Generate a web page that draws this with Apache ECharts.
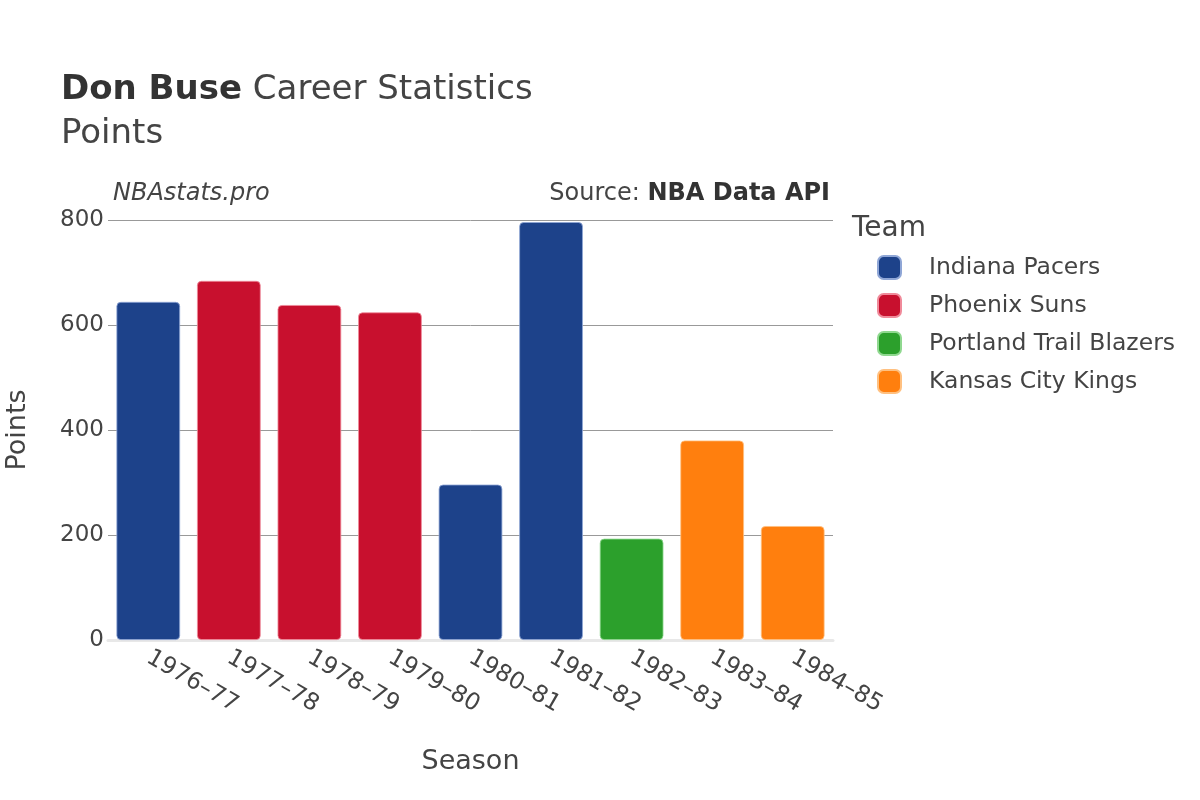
<!DOCTYPE html>
<html>
<head>
<meta charset="utf-8">
<script src="https://cdn.jsdelivr.net/npm/echarts@6/dist/echarts.min.js"></script>
<style>html,body{margin:0;padding:0;background:#fff}#c{width:1200px;height:800px}</style>
</head>
<body>
<div id="c"></div>
<script>
const seasons = ["1976–77","1977–78","1978–79","1979–80","1980–81","1981–82","1982–83","1983–84","1984–85"];
const seasonTeams = ["Indiana Pacers","Phoenix Suns","Phoenix Suns","Phoenix Suns","Indiana Pacers","Indiana Pacers","Portland Trail Blazers","Kansas City Kings","Kansas City Kings"];
const points = [644, 684, 638, 624, 296, 796, 193, 380, 217];
const teams = ["Indiana Pacers","Phoenix Suns","Portland Trail Blazers","Kansas City Kings"];
const teamColors = ["#1d428a","#c8102e","#2ca02c","#ff7f0e"];
const teamBorders = ["#8fa6d6","#f08a9a","#8fd88f","#ffc080"];
const yTicks = [0, 200, 400, 600, 800];

const FONT = "DejaVu Sans";
const chart = echarts.init(document.getElementById('c'), null, {renderer:'canvas'});

const series = teams.map((t, i) => ({
  name: t,
  type: 'bar',
  stack: 'total',
  barCategoryGap: '21%',
  itemStyle: { color: teamColors[i], borderRadius: 4, borderColor: teamBorders[i], borderWidth: 0.8 },
  data: points.map((v, j) => seasonTeams[j] === t ? v : null)
}));

chart.setOption({
  backgroundColor: '#fff',
  animation: false,
  textStyle: { fontFamily: FONT },
  grid: { left: 108, right: 367, top: 220, bottom: 160, containLabel: false, outerBoundsMode: 'none' },
  xAxis: {
    type: 'category',
    data: seasons,
    name: 'Season',
    nameLocation: 'middle',
    nameGap: 108,
    nameTextStyle: { fontSize: 27, color: '#444', fontFamily: FONT },
    axisLine: { show: true, lineStyle: { color: '#e8e8e8', width: 3 } },
    axisTick: { show: false },
    axisLabel: { rotate: -30, fontSize: 23.5, color: '#444', margin: 16, fontFamily: FONT }
  },
  yAxis: {
    type: 'value',
    min: yTicks[0], max: yTicks[yTicks.length - 1], interval: 200,
    name: 'Points',
    nameLocation: 'middle',
    nameGap: 77,
    nameTextStyle: { fontSize: 27, color: '#444', fontFamily: FONT },
    axisLine: { show: false },
    axisTick: { show: false },
    axisLabel: { fontSize: 23, color: '#444', margin: 4, fontFamily: FONT },
    splitLine: { lineStyle: { color: '#999', width: 1 } }
  },
  legend: {
    orient: 'vertical',
    left: 872,
    top: 250,
    itemWidth: 23,
    itemHeight: 23,
    itemGap: 13,
    icon: 'roundRect',
    data: teams,
    textStyle: { fontSize: 23.5, lineHeight: 23, color: '#444', fontFamily: FONT, padding: [0, 0, 0, 23] }
  },
  graphic: [
    { type: 'text', left: 61, top: 73, style: { text: '{b|Don Buse} Career Statistics', rich: { b: { fontWeight: 'bold', fontSize: 34, fill: '#333', fontFamily: FONT } }, fontSize: 34, fill: '#444', fontFamily: FONT } },
    { type: 'text', left: 61, top: 117, style: { text: 'Points', fontSize: 34, fill: '#444', fontFamily: FONT } },
    { type: 'text', left: 113, top: 182, style: { text: 'NBAstats.pro', fontSize: 24, fontStyle: 'italic', fill: '#444', fontFamily: FONT } },
    { type: 'text', right: 370, top: 182, style: { text: 'Source: {b|NBA Data API}', rich: { b: { fontWeight: 'bold', fontSize: 24, fill: '#333', fontFamily: FONT } }, fontSize: 24, fill: '#444', fontFamily: FONT } },
    { type: 'text', left: 852, top: 215, style: { text: 'Team', fontSize: 28, fill: '#444', fontFamily: FONT } }
  ],
  series: series
});
</script>
</body>
</html>
